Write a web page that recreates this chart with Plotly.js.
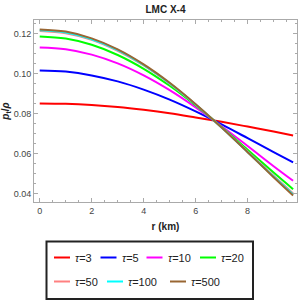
<!DOCTYPE html>
<html>
<head>
<meta charset="utf-8">
<script src="https://cdn.plot.ly/plotly-3.0.1.min.js"></script>
<style>html,body{margin:0;padding:0;background:#fff;}#chart{width:300px;height:300px;}</style>
</head>
<body>
<div id="chart"></div>
<script>
// Data
const r = [0, 1, 2, 3, 4, 5, 6, 7, 8, 9, 9.75];
const tauLabels = ["τ=3", "τ=5", "τ=10", "τ=20", "τ=50", "τ=100", "τ=500"];
const tau3   = [0.0850, 0.0848, 0.0842, 0.0832, 0.0818, 0.0801, 0.0780, 0.0758, 0.0734, 0.0709, 0.0690];
const tau5   = [0.1015, 0.1009, 0.0990, 0.0960, 0.0919, 0.0869, 0.0810, 0.0745, 0.0676, 0.0606, 0.0555];
const tau10  = [0.1130, 0.1121, 0.1094, 0.1050, 0.0990, 0.0916, 0.0830, 0.0736, 0.0637, 0.0536, 0.0463];
const tau20  = [0.1185, 0.1174, 0.1143, 0.1092, 0.1023, 0.0938, 0.0840, 0.0732, 0.0618, 0.0504, 0.0421];
const tau50  = [0.1212, 0.1201, 0.1168, 0.1113, 0.1040, 0.0949, 0.0845, 0.0730, 0.0609, 0.0488, 0.0400];
const tau100 = [0.1216, 0.1205, 0.1171, 0.1117, 0.1042, 0.0951, 0.0845, 0.0729, 0.0607, 0.0484, 0.0395];
const tau500 = [0.1220, 0.1209, 0.1175, 0.1120, 0.1045, 0.0953, 0.0846, 0.0729, 0.0606, 0.0481, 0.0390];
const xTickVals = [0, 2, 4, 6, 8];
const yTickVals = [0.04, 0.06, 0.08, 0.10, 0.12];
const yTickText = ["0.04", "0.06", "0.08", "0.10", "0.12"];

const series = [tau3, tau5, tau10, tau20, tau50, tau100, tau500];
const colors = ["#ff0000", "#0000ff", "#ff00ff", "#00ff00", "#ff8080", "#00ffff", "#996633"];

const traces = series.map((ys, i) => ({
  x: r, y: ys, type: "scatter", mode: "lines", name: tauLabels[i],
  line: {color: colors[i], width: 2, shape: "spline", smoothing: 1},
  showlegend: false, hoverinfo: "skip"
}));

// Plot area in pixels: left 34, right 297, top 20, bottom 202
const L = 34, R = 297, T = 20, B = 202;
const px = v => (v - L) / (R - L);
const py = v => (B - v) / (B - T);

// Custom legend layout (pixel positions of each entry's line start)
const legPos = [[54, 257.5], [100.5, 257.5], [146.5, 257.5], [200, 257.5],
                [54, 281.5], [107, 281.5], [170, 281.5]];
const shapes = [{type: "rect", xref: "paper", yref: "paper",
  x0: px(46.5), x1: px(253), y0: py(299), y1: py(241.5),
  line: {color: "#222", width: 2}, fillcolor: "rgba(0,0,0,0)"}];
const annotations = [];
tauLabels.forEach((lab, i) => {
  const [lx, ly] = legPos[i];
  shapes.push({type: "line", xref: "paper", yref: "paper",
    x0: px(lx), x1: px(lx + 16), y0: py(ly), y1: py(ly),
    line: {color: colors[i], width: 2}});
  annotations.push({xref: "paper", yref: "paper", x: px(lx + 19), y: py(ly),
    xanchor: "left", yanchor: "middle", showarrow: false,
    text: lab.replace("τ", "<i>τ</i>"),
    font: {family: "Liberation Sans, Arial, sans-serif", size: 11, color: "#222"}});
});

const axisCommon = {
  showgrid: false, zeroline: false, showline: true, linecolor: "#aaa", linewidth: 1,
  mirror: "allticks", ticks: "inside", ticklen: 4, tickcolor: "#aaa", tickwidth: 1,
  tickfont: {family: "Liberation Sans, Arial, sans-serif", size: 9, color: "#444"}
};

const layout = {
  width: 300, height: 300,
  margin: {l: L, r: 300 - R, t: T, b: 300 - B},
  paper_bgcolor: "#fff", plot_bgcolor: "#fff",
  title: {text: "<b>LMC X-4</b>", x: 0.5 * (L + R) / 300, xanchor: "center", y: 1 - 9 / 300, yanchor: "middle",
    font: {family: "Liberation Sans, Arial, sans-serif", size: 10, color: "#222"}},
  xaxis: Object.assign({}, axisCommon, {
    range: [-0.22, 9.9], tickvals: xTickVals, ticktext: xTickVals.map(String),
    minor: {dtick: 0.5, tick0: 0, ticks: "inside", ticklen: 2, tickcolor: "#aaa"},
    title: {text: "<b>r (km)</b>", standoff: 8,
      font: {family: "Liberation Sans, Arial, sans-serif", size: 10, color: "#222"}}
  }),
  yaxis: Object.assign({}, axisCommon, {
    range: [0.0357, 0.1267], tickvals: yTickVals, ticktext: yTickText,
    minor: {dtick: 0.005, tick0: 0, ticks: "inside", ticklen: 2, tickcolor: "#aaa"},
    title: {text: "<b><i>p</i><sub>t</sub>/<i>ρ</i></b>", standoff: 4,
      font: {family: "Liberation Sans, Arial, sans-serif", size: 10, color: "#222"}}
  }),
  shapes: shapes,
  annotations: annotations,
  showlegend: false
};

Plotly.newPlot("chart", traces, layout, {staticPlot: true, displayModeBar: false});
</script>
</body>
</html>
